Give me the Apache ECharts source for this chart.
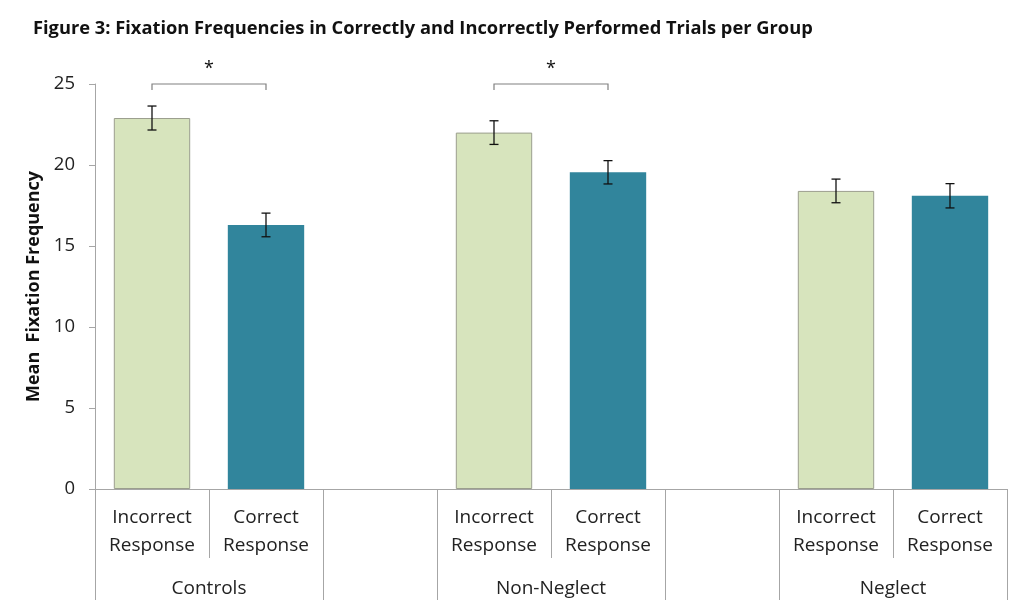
<!DOCTYPE html>
<html>
<head>
<meta charset="utf-8">
<script src="https://cdn.jsdelivr.net/npm/echarts@6/dist/echarts.min.js"></script>
<style>html,body{margin:0;padding:0;background:#fff}#c{width:1024px;height:614px}</style>
</head>
<body>
<div id="c"></div>
<script>
// ---- data ----
var groups = ['Controls', 'Non-Neglect', 'Neglect'];
var responseLabels = ['Incorrect\nResponse', 'Correct\nResponse'];
var incorrectMeans = [22.9, 22.0, 18.4];
var correctMeans = [16.3, 19.55, 18.1];
var incorrectErr = [0.74, 0.73, 0.73];
var correctErr = [0.73, 0.72, 0.75];
var yTicks = [0, 5, 10, 15, 20, 25];
var significantGroups = [0, 1]; // groups with * between incorrect and correct
var titleText = 'Figure 3: Fixation Frequencies in Correctly and Incorrectly Performed Trials per Group';
var yName = 'Mean  Fixation Frequency';

// ---- build category layout: Inc, Corr, blank per group ----
var cats = [], barData = [], errData = [], groupStart = [];
var colInc = '#d7e4bd', colCorr = '#31859c';
groups.forEach(function (g, gi) {
  groupStart.push(cats.length);
  cats.push(responseLabels[0]);
  barData.push({ value: incorrectMeans[gi], itemStyle: { color: colInc, borderColor: '#9b9e8e', borderWidth: 1 } });
  errData.push([cats.length - 1, incorrectMeans[gi] - incorrectErr[gi], incorrectMeans[gi] + incorrectErr[gi]]);
  cats.push(responseLabels[1]);
  barData.push({ value: correctMeans[gi], itemStyle: { color: colCorr } });
  errData.push([cats.length - 1, correctMeans[gi] - correctErr[gi], correctMeans[gi] + correctErr[gi]]);
  if (gi < groups.length - 1) { cats.push(''); barData.push('-'); }
});
var n = cats.length;
var boundaries = [], centers = [];
groupStart.forEach(function (s, gi) {
  boundaries.push(s); boundaries.push(s + 2);
  centers.push(s + 1);
});
var brackets = significantGroups.map(function (gi) { return [groupStart[gi], groupStart[gi] + 1, 25]; });

var font = '"Open Sans", "Noto Sans", sans-serif';
var chart = echarts.init(document.getElementById('c'), null, { renderer: 'canvas' });
chart.setOption({
  animation: false,
  backgroundColor: '#fff',
  title: {
    text: titleText, left: 33, top: 20, padding: 0,
    textStyle: { fontFamily: font, fontSize: 18.3, fontWeight: 'bold', color: '#111' }
  },
  grid: { left: 95, right: 17, top: 84, bottom: 125 },
  xAxis: [{
    type: 'category', data: cats, position: 'bottom',
    axisLine: { lineStyle: { color: '#a6a6a6', width: 1 } },
    axisTick: { show: true, interval: 0, length: 69, lineStyle: { color: '#a6a6a6' } },
    axisLabel: { interval: 0, margin: 15, fontFamily: font, fontSize: 19, lineHeight: 28, color: '#222' }
  }, {
    type: 'value', min: 0, max: n, position: 'bottom',
    axisLine: { show: false }, splitLine: { show: false },
    axisTick: { show: true, length: 111, customValues: boundaries, lineStyle: { color: '#a6a6a6' } },
    axisLabel: {
      customValues: centers, margin: 90, fontFamily: font, fontSize: 19, color: '#222',
      formatter: function (v) { var i = centers.indexOf(v); return i >= 0 ? groups[i] : ''; }
    }
  }],
  yAxis: {
    type: 'value', min: yTicks[0], max: yTicks[yTicks.length - 1], interval: 5,
    name: yName, nameLocation: 'middle', nameGap: 51,
    nameTextStyle: { fontFamily: font, fontSize: 18, fontWeight: 'bold', color: '#111' },
    axisLine: { show: true, lineStyle: { color: '#a6a6a6' } },
    axisTick: { show: true, length: 6, lineStyle: { color: '#a6a6a6' } },
    splitLine: { show: false },
    axisLabel: { margin: 20, fontFamily: font, fontSize: 18.5, color: '#222' }
  },
  series: [{
    type: 'bar', data: barData, barWidth: '67%', xAxisIndex: 0
  }, {
    type: 'custom', xAxisIndex: 0, data: errData, z: 5,
    renderItem: function (params, api) {
      var x = api.value(0);
      var lo = api.coord([x, api.value(1)]);
      var hi = api.coord([x, api.value(2)]);
      var w = 4.5;
      var st = { stroke: '#111', lineWidth: 1.3 };
      return { type: 'group', children: [
        { type: 'line', shape: { x1: lo[0], y1: lo[1], x2: hi[0], y2: hi[1] }, style: st },
        { type: 'line', shape: { x1: lo[0] - w, y1: lo[1], x2: lo[0] + w, y2: lo[1] }, style: st },
        { type: 'line', shape: { x1: hi[0] - w, y1: hi[1], x2: hi[0] + w, y2: hi[1] }, style: st }
      ] };
    }
  }, {
    type: 'custom', xAxisIndex: 0, data: brackets, z: 5, clip: false,
    renderItem: function (params, api) {
      var a = api.coord([api.value(0), api.value(2)]);
      var b = api.coord([api.value(1), api.value(2)]);
      var drop = 6;
      return { type: 'group', children: [
        { type: 'polyline', shape: { points: [[a[0], a[1] + drop], [a[0], a[1]], [b[0], b[1]], [b[0], b[1] + drop]] },
          style: { stroke: '#808080', lineWidth: 1.2, fill: null } },
        { type: 'text', style: { text: '*', x: (a[0] + b[0]) / 2, y: a[1] - 15, textAlign: 'center', textVerticalAlign: 'middle',
          font: '18px ' + font, fill: '#111' } }
      ] };
    }
  }]
});
</script>
</body>
</html>
